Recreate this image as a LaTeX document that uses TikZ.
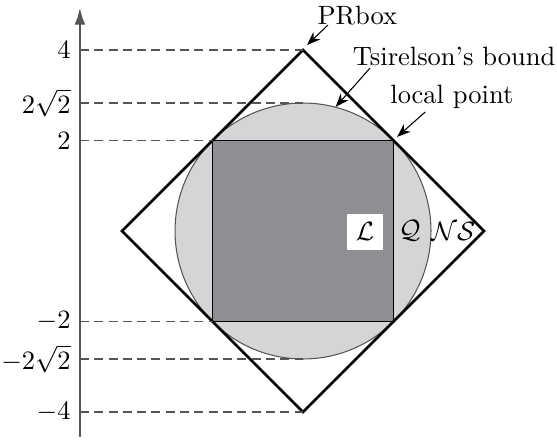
\documentclass[tikz,border=0pt]{standalone}
\usepackage{tikz}
\usetikzlibrary{arrows.meta,calc}
\usepackage{amsmath,amssymb}
\definecolor{qgray}{HTML}{D5D5D7}
\definecolor{lgray}{HTML}{8F8F93}
\definecolor{axisgray}{HTML}{555555}

\begin{document}
\begin{tikzpicture}[x=0.6cm, y=0.6cm]
  \useasboundingbox (-6.696,-4.597) rectangle (5.613,5.105);
  % corners and points of the sets
  \coordinate (prtop) at (0,4);
  \coordinate (prbot) at (0,-4);
  \coordinate (ts) at (0,2.828);
  \coordinate (tsbot) at (0,-2.828);
  \coordinate (lul) at (-2,2);
  \coordinate (lur) at (2,2);
  \coordinate (lll) at (-2,-2);
  \coordinate (tsmark) at (0.72,2.74);
  % quantum set and local polytope
  \filldraw[fill=qgray, draw=axisgray, thin] (0,0) circle (2.828);
  \filldraw[fill=lgray, draw=black, thin] (-2,-2) rectangle (2,2);
  \draw[line width=1pt] (0,4) -- (4,0) -- (0,-4) -- (-4,0) -- cycle;
  % axis
  \coordinate (ax) at (-4.93,0);
  \draw[-{Latex[length=2.2mm,width=1.4mm]}, axisgray, semithick] (-4.93,-4.55) -- (-4.93,4.93);
  \tikzset{tick/.style={anchor=east, inner ysep=1pt}}
  \node[tick] (t4) at (-4.93,4) {$4$};
  \node[tick] (t2r) at (-4.93,2.828) {$2\sqrt{2}$};
  \node[tick] (t2) at (-4.93,2) {$2$};
  \node[tick] (tm2) at (-4.93,-2) {$-2$};
  \node[tick] (tm2r) at (-4.93,-2.828) {$-2\sqrt{2}$};
  \node[tick] (tm4) at (-4.93,-4) {$-4$};
  \foreach \t/\p in {t4/prtop, t2r/ts, t2/lul, tm2/lll, tm2r/tsbot, tm4/prbot}
    \draw[axisgray, semithick, dash pattern=on 3.4pt off 2pt] (\t.east) -- (\p);
  % labels
  \node[fill=white, minimum size=0.48cm, inner sep=0pt] (lset) at (1.37,-0.02) {$\mathcal{L}$};
  \node (qset) at (2.36,0) {$\mathcal{Q}$};
  \node (nsset) at (3.32,0) {$\mathcal{NS}$};
  \node (prlab) at (1.2,4.77) {PRbox};
  \node (tslab) at (3.34,3.85) {Tsirelson's bound};
  \node (loclab) at (3.29,2.96) {local point};
  \draw[-{Stealth[length=1.8mm]}] (0.55,4.55) -- ($(prtop)+(0.09,0.11)$);
  \draw[-{Stealth[length=1.8mm]}] (1.48,3.6) -- (tsmark);
  \draw[-{Stealth[length=1.8mm]}] (2.7,2.63) -- ($(lur)+(0.08,0.08)$);
\end{tikzpicture}
\end{document}
